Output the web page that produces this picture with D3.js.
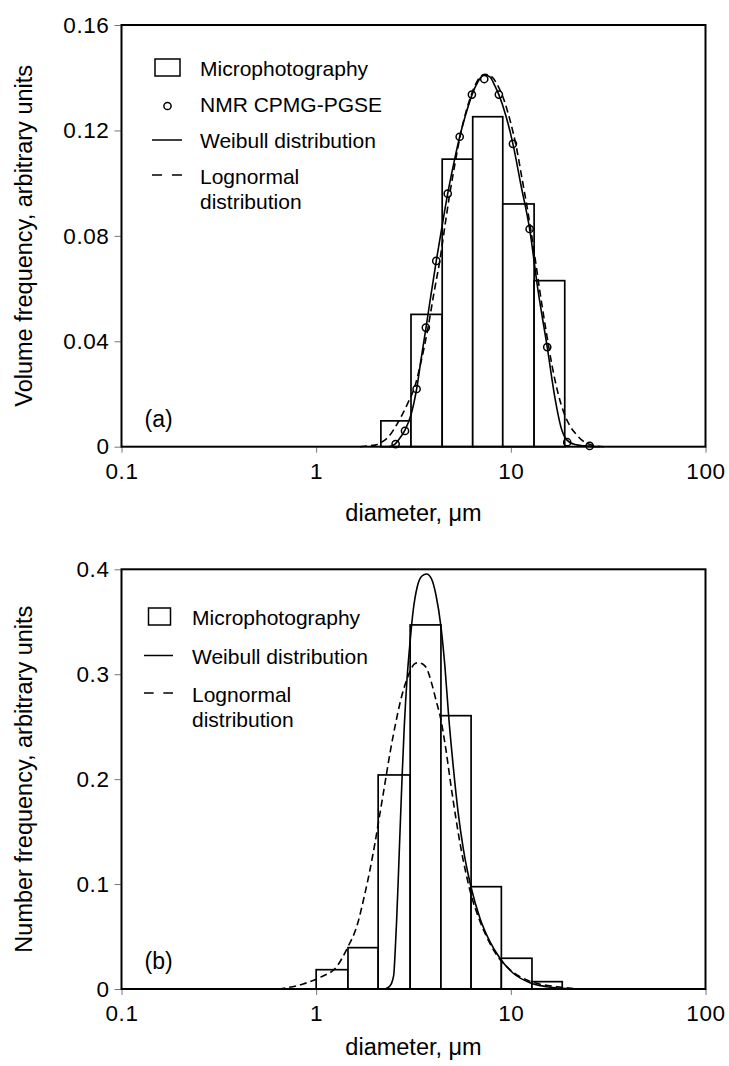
<!DOCTYPE html>
<html>
<head>
<meta charset="utf-8">
<script src="https://cdn.jsdelivr.net/npm/d3@7/dist/d3.min.js"></script>
<style>
  html, body { margin: 0; padding: 0; background: #fff; }
  svg { display: block; }
  text { font-family: "Liberation Sans", Arial, sans-serif; fill: #000; }
</style>
</head>
<body>
<svg id="chart" width="729" height="1066"></svg>
<script>
// ---- shared axis ticks ----
const xTicks = [0.1, 1, 10, 100];
const volTicks = [0, 0.04, 0.08, 0.12, 0.16];
const numTicks = [0, 0.1, 0.2, 0.3, 0.4];

// ---- (a) volume frequency ----
// histogram bin edges (µm) and bar heights
const volEdges = [2.15, 3.07, 4.44, 6.37, 9.09, 13.17, 18.92];
const volBars = [0.0098, 0.0502, 0.1091, 0.1252, 0.0921, 0.0630];
// NMR CPMG-PGSE points
const nmrD = [2.56, 2.86, 3.28, 3.66, 4.14, 4.74, 5.46, 6.31, 7.30, 8.68, 10.25, 12.49, 15.38, 19.48, 25.4];
const nmrV = [0.0010, 0.0060, 0.0219, 0.0452, 0.0705, 0.0960, 0.1176, 0.1336, 0.1395, 0.1336, 0.1149, 0.0826, 0.0378, 0.0017, 0.0003];
// Weibull curve
const volWeibullD = [2.365, 2.54, 2.694, 2.858, 3.068, 3.283, 3.454, 3.664, 3.888, 4.14, 4.428, 4.736, 5.085, 5.458, 5.881, 6.315, 6.776, 7.274, 7.809, 8.284, 8.687, 9.438, 10.25, 11.27, 12.49, 13.78, 15.38, 16.85, 18.08, 19.42, 21.34, 24.02, 28.68];
const volWeibullV = [0, 0.0010, 0.0033, 0.0063, 0.0120, 0.0219, 0.0329, 0.0450, 0.0576, 0.0705, 0.0834, 0.0959, 0.1073, 0.1175, 0.1263, 0.1335, 0.1384, 0.1411, 0.1403, 0.1369, 0.1335, 0.1255, 0.1149, 0.0993, 0.0826, 0.0595, 0.0378, 0.0185, 0.0075, 0.0025, 0.0008, 0.0003, 0];
// Lognormal curve
const volLogD = [1.679, 1.845, 2.004, 2.203, 2.393, 2.570, 2.759, 2.961, 3.217, 3.454, 3.751, 4.027, 4.323, 4.586, 4.866, 5.163, 5.479, 5.881, 6.315, 6.776, 7.362, 7.996, 8.585, 9.217, 9.894, 10.62, 11.40, 12.24, 13.14, 14.11, 15.15, 16.26, 17.46, 18.74, 20.12, 21.60, 23.19, 25.49, 28.02, 30.08];
const volLogV = [0, 0.0003, 0.0006, 0.0020, 0.0044, 0.0079, 0.0120, 0.0166, 0.0230, 0.0321, 0.0450, 0.0583, 0.0709, 0.0838, 0.0963, 0.1073, 0.1175, 0.1270, 0.1342, 0.1392, 0.1413, 0.1403, 0.1369, 0.1316, 0.1240, 0.1145, 0.1020, 0.0890, 0.0746, 0.0587, 0.0443, 0.0310, 0.0204, 0.0128, 0.0079, 0.0048, 0.0025, 0.0008, 0.0002, 0];

// ---- (b) number frequency ----
const numEdges = [1.0, 1.457, 2.082, 3.04, 4.375, 6.25, 8.94, 12.84, 18.37];
const numBars = [0.0184, 0.0394, 0.204, 0.347, 0.2605, 0.0975, 0.0293, 0.0070];
const numWeibullD = [2.256, 2.393, 2.471, 2.509, 2.548, 2.591, 2.640, 2.694, 2.759, 2.835, 2.927, 3.032, 3.153, 3.306, 3.495, 3.694, 3.902, 4.125, 4.375, 4.586, 4.791, 5.061, 5.369, 5.695, 6.239, 6.941, 7.809, 8.790, 10.29, 12.53, 15.28, 19.35];
const numWeibullV = [0, 0.0029, 0.0086, 0.0152, 0.0372, 0.0658, 0.1039, 0.1484, 0.1992, 0.2500, 0.2945, 0.3295, 0.3612, 0.3834, 0.3936, 0.3955, 0.3914, 0.3755, 0.3453, 0.3072, 0.2605, 0.2119, 0.1674, 0.1341, 0.0975, 0.0674, 0.0451, 0.0293, 0.0150, 0.0060, 0.0022, 0.0005];
const numLogD = [0.639, 0.706, 0.858, 1.046, 1.274, 1.457, 1.615, 1.781, 1.889, 2.004, 2.127, 2.256, 2.393, 2.540, 2.694, 2.858, 3.032, 3.190, 3.345, 3.524, 3.694, 3.920, 4.125, 4.375, 4.642, 4.907, 5.206, 5.523, 5.881, 6.290, 6.801, 7.510, 8.455, 9.515, 11.14, 13.57, 17.19, 20.92];
const numLogV = [0, 0.0012, 0.0048, 0.0111, 0.0213, 0.0403, 0.0594, 0.0912, 0.1134, 0.1389, 0.1674, 0.1960, 0.2246, 0.2500, 0.2723, 0.2897, 0.3024, 0.3097, 0.3110, 0.3097, 0.3056, 0.2913, 0.2754, 0.2564, 0.2278, 0.1960, 0.1642, 0.1356, 0.1103, 0.0880, 0.0689, 0.0498, 0.0324, 0.0213, 0.0117, 0.0054, 0.0022, 0.0005];

const svg = d3.select("#chart");

function zip(xs, ys) { return xs.map((x, i) => [x, ys[i]]); }

function drawPanel(cfg) {
  const x = d3.scaleLog().domain([0.1, 100]).range([cfg.left, cfg.right]);
  const y = d3.scaleLinear().domain(cfg.yDomain).range([cfg.bottom, cfg.top]);
  const g = svg.append("g");

  // bars
  const bars = cfg.bars.map((v, i) => ({ x0: cfg.edges[i], x1: cfg.edges[i + 1], v }));
  g.append("g").selectAll("rect").data(bars).join("rect")
    .attr("x", d => x(d.x0))
    .attr("y", d => y(d.v))
    .attr("width", d => x(d.x1) - x(d.x0))
    .attr("height", d => y(0) - y(d.v))
    .attr("fill", "#fff")
    .attr("stroke", "#000")
    .attr("stroke-width", 1.7);

  const line = d3.line()
    .x(d => x(d[0]))
    .y(d => y(d[1]))
    .curve(d3.curveMonotoneX);

  g.append("path").datum(zip(cfg.logD, cfg.logV))
    .attr("d", line).attr("fill", "none").attr("stroke", "#000")
    .attr("stroke-width", 1.6).attr("stroke-dasharray", "7,4");
  g.append("path").datum(zip(cfg.weiD, cfg.weiV))
    .attr("d", line).attr("fill", "none").attr("stroke", "#000")
    .attr("stroke-width", 1.6);

  if (cfg.pointsD) {
    g.append("g").selectAll("circle").data(zip(cfg.pointsD, cfg.pointsV)).join("circle")
      .attr("cx", d => x(d[0])).attr("cy", d => y(d[1])).attr("r", 3.6)
      .attr("fill", "none").attr("stroke", "#000").attr("stroke-width", 1.5);
  }

  // axes
  const yAxis = d3.axisLeft(y).tickValues(cfg.yTicks).tickSize(7).tickPadding(5)
    .tickFormat(cfg.yFormat);
  const ya = g.append("g").attr("transform", `translate(${cfg.left},0)`).call(yAxis);
  const xAxis = d3.axisBottom(x).tickValues(xTicks).tickSize(6).tickPadding(10)
    .tickFormat(d3.format("~g"));
  const xa = g.append("g").attr("transform", `translate(0,${cfg.bottom})`).call(xAxis);
  [ya, xa].forEach(a => {
    a.select(".domain").remove();
    a.selectAll(".tick line").attr("stroke", "#777").attr("stroke-width", 1);
    a.selectAll(".tick text").attr("font-size", 22.5).attr("letter-spacing", 0.6)
      .attr("font-family", "Liberation Sans, Arial, sans-serif");
  });

  // frame
  g.append("rect")
    .attr("x", cfg.left).attr("y", cfg.top)
    .attr("width", cfg.right - cfg.left).attr("height", cfg.bottom - cfg.top)
    .attr("fill", "none").attr("stroke", "#000").attr("stroke-width", 2);

  // axis titles
  g.append("text").attr("x", (cfg.left + cfg.right) / 2).attr("y", cfg.bottom + cfg.xTitleGap)
    .attr("text-anchor", "middle").attr("font-size", 23.5).text("diameter, \u03bcm");
  g.append("text")
    .attr("transform", `translate(32,${(cfg.top + cfg.bottom) / 2}) rotate(-90)`)
    .attr("text-anchor", "middle").attr("font-size", 23.5).text(cfg.yTitle);

  // panel tag
  g.append("text").attr("x", cfg.left + 23).attr("y", cfg.bottom - 20)
    .attr("font-size", 23).text(cfg.tag);

  // legend
  const L = cfg.legend;
  let ly = L.y;
  const lg = g.append("g");
  L.items.forEach(it => {
    if (it.type === "box") {
      lg.append("rect").attr("x", L.sx).attr("y", ly - 17).attr("width", L.sw).attr("height", 17)
        .attr("fill", "#fff").attr("stroke", "#000").attr("stroke-width", 1.5);
    } else if (it.type === "circle") {
      lg.append("circle").attr("cx", L.sx + L.sw / 2).attr("cy", ly - 6).attr("r", 3.6)
        .attr("fill", "none").attr("stroke", "#000").attr("stroke-width", 1.5);
    } else if (it.type === "solid") {
      lg.append("line").attr("x1", L.lx0).attr("x2", L.lx1).attr("y1", ly - 8).attr("y2", ly - 8)
        .attr("stroke", "#000").attr("stroke-width", 1.5);
    } else if (it.type === "dash") {
      lg.append("line").attr("x1", L.lx0).attr("x2", L.lx1).attr("y1", ly - 9).attr("y2", ly - 9)
        .attr("stroke", "#000").attr("stroke-width", 1.5)
        .attr("stroke-dasharray", `${(L.lx1 - L.lx0) / 3},${(L.lx1 - L.lx0) / 3}`);
    }
    it.text.forEach((t, k) => {
      lg.append("text").attr("x", L.tx).attr("y", ly + k * 24.5).attr("font-size", 21).text(t);
    });
    ly += L.step;
  });
}

drawPanel({
  left: 121.5, right: 705.5, top: 25, bottom: 446.7, xTitleGap: 74,
  yDomain: [0, 0.16], yTicks: volTicks,
  yFormat: d => d === 0 ? "0" : d3.format(".2f")(d),
  edges: volEdges, bars: volBars,
  weiD: volWeibullD, weiV: volWeibullV, logD: volLogD, logV: volLogV,
  pointsD: nmrD, pointsV: nmrV,
  yTitle: "Volume frequency, arbitrary units", tag: "(a)",
  legend: {
    y: 76, step: 36, sx: 155, sw: 25, lx0: 152, lx1: 182, tx: 200,
    items: [
      { type: "box", text: ["Microphotography"] },
      { type: "circle", text: ["NMR CPMG-PGSE"] },
      { type: "solid", text: ["Weibull distribution"] },
      { type: "dash", text: ["Lognormal", "distribution"] }
    ]
  }
});

drawPanel({
  left: 121.5, right: 705.5, top: 569.3, bottom: 989, xTitleGap: 66,
  yDomain: [0, 0.4], yTicks: numTicks,
  yFormat: d => d === 0 ? "0" : d3.format(".1f")(d),
  edges: numEdges, bars: numBars,
  weiD: numWeibullD, weiV: numWeibullV, logD: numLogD, logV: numLogV,
  yTitle: "Number frequency, arbitrary units", tag: "(b)",
  legend: {
    y: 625, step: 38.5, sx: 148.5, sw: 22, lx0: 144, lx1: 173, tx: 192,
    items: [
      { type: "box", text: ["Microphotography"] },
      { type: "solid", text: ["Weibull distribution"] },
      { type: "dash", text: ["Lognormal", "distribution"] }
    ]
  }
});
</script>
</body>
</html>
